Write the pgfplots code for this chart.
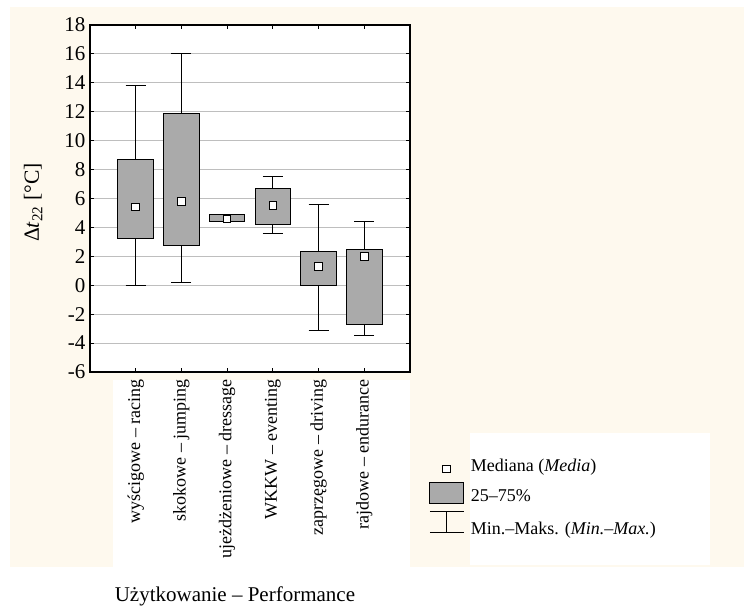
\documentclass[border=0pt]{standalone}
\usepackage{fontspec}
\setmainfont{Liberation Serif}
\usepackage{pgfplots}
\pgfplotsset{compat=1.18}
\usepgfplotslibrary{statistics}
\definecolor{cream}{RGB}{254,249,238}
\definecolor{boxgray}{RGB}{170,170,170}
\definecolor{gridgray}{RGB}{190,190,190}
\begin{document}
\begin{tikzpicture}
\useasboundingbox (0,0) rectangle (558pt,454.5pt);
\fill[cream] (7.5pt,29.25pt) rectangle (558pt,449.25pt);
\fill[white] (84.75pt,0pt) rectangle (307.5pt,169.5pt);
\fill[white] (352.5pt,30.75pt) rectangle (532.5pt,129.75pt);
\begin{axis}[
  at={(67.5pt,175.5pt)}, anchor=south west,
  scale only axis, width=240pt, height=260.25pt,
  xmin=0, xmax=7, ymin=-6, ymax=18,
  xtick={1,2,3,4,5,6},
  xticklabels={wyścigowe – racing, skokowe – jumping, ujeżdżeniowe – dressage, WKKW – eventing, zaprzęgowe – driving, rajdowe – endurance},
  ytick={-6,-4,-2,0,2,4,6,8,10,12,14,16,18},
  tick pos=both, tick align=inside, major tick length=3pt,
  tick style={black, line width=0.75pt},
  ymajorgrids, grid style={gridgray, line width=0.75pt},
  axis line style={line width=0.9pt},
  axis background/.style={fill=white},
  /pgf/number format/assume math mode=true,
  yticklabel style={font=\fontsize{15.75}{18}\selectfont},
  xticklabel style={font=\fontsize{13.5}{16}\selectfont, rotate=90, anchor=east},
  xticklabel shift=2pt,
  ylabel={Δ\textit{t}\textsubscript{22} [°C]},
  ylabel style={font=\fontsize{16.2}{18}\selectfont, at={(axis description cs:-0.178,0.4885)}, anchor=center},
  xlabel={Użytkowanie – Performance},
  xlabel style={font=\fontsize{15.75}{18}\selectfont, at={(axis description cs:0.453,-0.648)}, anchor=center},
  boxplot/draw direction=y,
  boxplot/box extend=0.78,
  boxplot/whisker extend=0.44,
  boxplot/draw/median/.code={},
  legend style={at={(axis description cs:1.0594,-0.2277)}, anchor=north west, draw=none, fill=none,
    font=\fontsize{13.5}{16}\selectfont, inner sep=0pt, row sep=0pt, column sep=4pt,
    nodes={inner sep=1pt}},
  legend cell align=left,
]
\addlegendimage{legend image code/.code={
  \path[draw=none, fill=none] (0pt,-11.2pt) rectangle (25.5pt,11.2pt);
  \path[draw=black, fill=white, line width=0.75pt] (9.9pt,-4.9pt) rectangle (15.6pt,0.6pt);}}
\addlegendentry{Mediana (\textit{Media})}
\addlegendimage{legend image code/.code={
  \path[draw=none, fill=none] (0pt,-11.2pt) rectangle (25.5pt,11.2pt);
  \path[draw=black, fill=boxgray, line width=0.75pt] (0pt,-5.8pt) rectangle (25.5pt,10pt);}}
\addlegendentry{25–75\%}
\addlegendimage{legend image code/.code={
  \path[draw=none, fill=none] (0pt,-11.2pt) rectangle (25.5pt,11.2pt);
  \path[draw=black, fill=none, line width=0.75pt] (0pt,13.1pt) -- (25.5pt,13.1pt) (12.75pt,13.1pt) -- (12.75pt,-2.6pt) (0pt,-2.6pt) -- (25.5pt,-2.6pt);}}
\addlegendentry{Min.–Maks. (\textit{Min.–Max.})}

\addplot[boxplot prepared={lower whisker=0, lower quartile=3.2, median=5.4, upper quartile=8.7, upper whisker=13.8, draw position=1}, draw=black, fill=boxgray, line width=0.75pt, forget plot] coordinates {};
\addplot[boxplot prepared={lower whisker=0.2, lower quartile=2.75, median=5.8, upper quartile=11.9, upper whisker=16.0, draw position=2}, draw=black, fill=boxgray, line width=0.75pt, forget plot] coordinates {};
\addplot[boxplot prepared={lower whisker=4.4, lower quartile=4.4, median=4.6, upper quartile=4.9, upper whisker=4.9, draw position=3}, draw=black, fill=boxgray, line width=0.75pt, forget plot] coordinates {};
\addplot[boxplot prepared={lower whisker=3.6, lower quartile=4.2, median=5.5, upper quartile=6.7, upper whisker=7.5, draw position=4}, draw=black, fill=boxgray, line width=0.75pt, forget plot] coordinates {};
\addplot[boxplot prepared={lower whisker=-3.1, lower quartile=0.0, median=1.3, upper quartile=2.3, upper whisker=5.6, draw position=5}, draw=black, fill=boxgray, line width=0.75pt, forget plot] coordinates {};
\addplot[boxplot prepared={lower whisker=-3.5, lower quartile=-2.7, median=2.0, upper quartile=2.5, upper whisker=4.4, draw position=6}, draw=black, fill=boxgray, line width=0.75pt, forget plot] coordinates {};

\addplot[only marks, mark=square*, mark size=2.8pt, mark options={fill=white, draw=black, line width=0.75pt}, forget plot] coordinates {(1,5.4) (2,5.8) (3,4.6) (4,5.5) (5,1.3) (6,2.0)};
\end{axis}
\end{tikzpicture}
\end{document}
